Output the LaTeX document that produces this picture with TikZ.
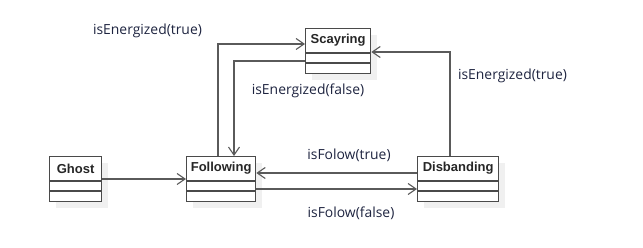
\documentclass[tikz,border=0pt]{standalone}
\usepackage{fontspec}
\setmainfont{Open Sans}
\newfontfamily\clsfont{Liberation Sans}
\usetikzlibrary{arrows.meta,calc}
\definecolor{edgec}{HTML}{5A5A5A}
\definecolor{boxc}{HTML}{4A4A4A}
\definecolor{shadowc}{HTML}{F0F0F0}
\definecolor{labc}{HTML}{1E2440}
\tikzset{
  cls/.style={draw=boxc, fill=white, line width=1.3pt, minimum height=45pt,
    anchor=north west, inner sep=0pt},
  clsname/.style={font=\clsfont\bfseries\fontsize{13}{15}\selectfont, text=black!85,
    inner sep=0pt, anchor=center},
  conn/.style={draw=edgec, line width=1.4pt,
    -{Straight Barb[length=8pt,width=11pt,line width=1.1pt]}},
  lab/.style={font=\fontsize{13.9}{16}\selectfont, text=labc, inner sep=0pt}
}
% a class box: shadow, frame, name in the top compartment, two empty compartments
\newcommand{\umlclass}[5]{%
  \fill[shadowc] (#2+7,#3+7) rectangle ++(#4,45);
  \node[cls, minimum width=#4pt] (#1) at (#2,#3) {};
  \node[clsname] (#1-name) at ($(#1.north)+(0,12.5)$) {#5};
  \draw[boxc, line width=1.3pt] ($(#1.north west)+(0,25)$) -- ($(#1.north east)+(0,25)$);
  \draw[boxc, line width=1.3pt] ($(#1.north west)+(0,35)$) -- ($(#1.north east)+(0,35)$);
}
\begin{document}
\begin{tikzpicture}[x=1pt,y=-1pt]
\useasboundingbox (0,0) rectangle (643,248);

\umlclass{scay}{305}{28}{65}{Scayring}
\umlclass{ghost}{49}{156}{52}{Ghost}
\umlclass{foll}{186}{156}{69}{Following}
\umlclass{disb}{417}{156}{81}{Disbanding}

% Ghost -> Following
\draw[conn] ($(ghost.north east)+(0,23)$) -- ($(foll.north west)+(0,23)$);
% Following -> Scayring
\draw[conn] ($(foll.north west)+(32,0)$) |- ($(scay.north west)+(0,16)$);
% Scayring -> Following
\draw[conn] ($(scay.north west)+(0,33)$) -| ($(foll.north west)+(48,0)$);
% Disbanding -> Following
\draw[conn] ($(disb.north west)+(0,17)$) -- ($(foll.north east)+(0,17)$);
% Following -> Disbanding
\draw[conn] ($(foll.north east)+(0,33)$) -- ($(disb.north west)+(0,33)$);
% Disbanding -> Scayring
\draw[conn] ($(disb.north west)+(33,0)$) |- ($(scay.north east)+(0,24)$);

\node[lab] (l1) at (147.5,31) {isEnergized(true)};
\node[lab] (l2) at (308,91) {isEnergized(false)};
\node[lab] (l3) at (512.5,76) {isEnergized(true)};
\node[lab] (l4) at (349,155) {isFolow(true)};
\node[lab] (l5) at (351,213) {isFolow(false)};
\end{tikzpicture}
\end{document}
